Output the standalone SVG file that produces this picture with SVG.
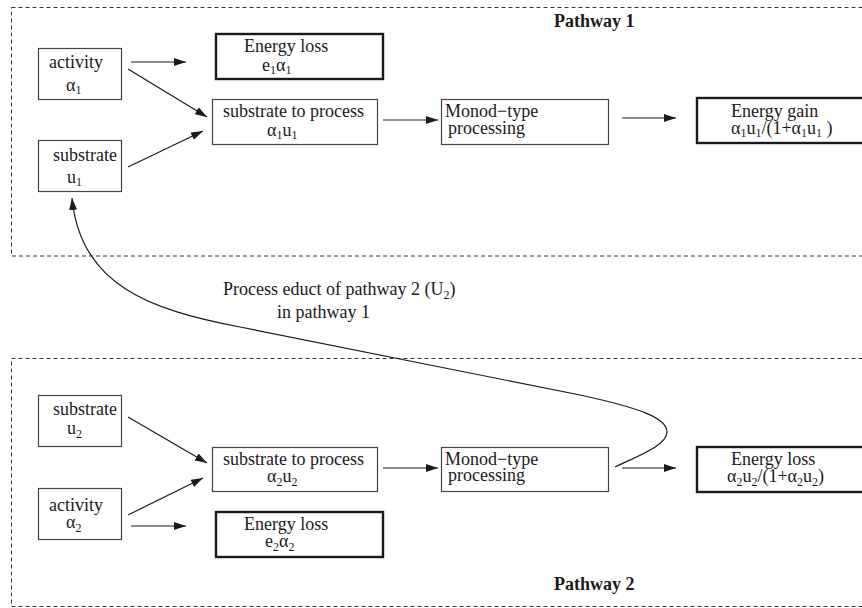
<svg xmlns="http://www.w3.org/2000/svg" width="862" height="608" viewBox="0 0 862 608">
<style>
text{font-family:"Liberation Serif","Times New Roman",serif;font-size:18px;fill:#1a1a1a}
.b{font-weight:bold}
.s{font-size:12px}
.box{fill:#fff;stroke:#444;stroke-width:1.2}
.tk{fill:#fff;stroke:#1a1a1a;stroke-width:2.4}
.dash{fill:none;stroke:#333;stroke-width:1;stroke-dasharray:4,3}
.c{fill:none;stroke:#1a1a1a;stroke-width:1.2}
</style>
<defs>
<marker id="ah" viewBox="0 0 12 8" refX="12" refY="4" markerWidth="12" markerHeight="8" markerUnits="userSpaceOnUse" orient="auto">
<path d="M0,0 L12,4 L0,8 z" fill="#1a1a1a"/>
</marker>
</defs>
<g id="pathway1-frame">
<rect class="dash" x="11.5" y="7.5" width="900" height="248.5"/>
<text class="b" x="554" y="27">Pathway 1</text>
</g>
<g id="pathway2-frame">
<rect class="dash" x="11.5" y="358.5" width="900" height="248"/>
<text class="b" x="554" y="590">Pathway 2</text>
</g>
<g id="activity1"><rect class="box" x="38.5" y="48.5" width="83" height="51"/>
<text x="49" y="68">activity</text>
<text x="66" y="91">α<tspan class="s" dy="3">1</tspan></text></g>
<g id="substrate1"><rect class="box" x="38.5" y="140.5" width="83" height="51"/>
<text x="53" y="161">substrate</text>
<text x="67" y="183">u<tspan class="s" dy="3">1</tspan></text></g>
<g id="loss1"><rect class="tk" x="216" y="34" width="167" height="45"/>
<text x="244" y="52">Energy loss</text>
<text x="262" y="71">e<tspan class="s" dy="3">1</tspan><tspan dy="-3">α</tspan><tspan class="s" dy="3">1</tspan></text></g>
<g id="process1"><rect class="box" x="212.5" y="99.5" width="165" height="45"/>
<text x="223" y="117">substrate to process</text>
<text x="267" y="136">α<tspan class="s" dy="3">1</tspan><tspan dy="-3">u</tspan><tspan class="s" dy="3">1</tspan></text></g>
<g id="monod1"><rect class="box" x="441.5" y="99.5" width="167" height="45"/>
<text x="445" y="117">Monod−type</text>
<text x="448" y="134">processing</text></g>
<g id="gain1"><rect class="tk" x="697" y="98" width="180" height="45"/>
<text x="731" y="117">Energy gain</text>
<text x="731" y="134">α<tspan class="s" dy="3">1</tspan><tspan dy="-3">u</tspan><tspan class="s" dy="3">1</tspan><tspan dy="-3">/(1+α</tspan><tspan class="s" dy="3">1</tspan><tspan dy="-3">u</tspan><tspan class="s" dy="3">1</tspan><tspan dy="-3"> )</tspan></text></g>
<g id="substrate2"><rect class="box" x="38.5" y="395.5" width="83" height="51"/>
<text x="53" y="415">substrate</text>
<text x="67" y="434">u<tspan class="s" dy="4">2</tspan></text></g>
<g id="activity2"><rect class="box" x="38.5" y="488.5" width="83" height="51"/>
<text x="49" y="511">activity</text>
<text x="66" y="528">α<tspan class="s" dy="4">2</tspan></text></g>
<g id="process2"><rect class="box" x="212.5" y="447.5" width="165" height="44"/>
<text x="223" y="465">substrate to process</text>
<text x="267" y="482">α<tspan class="s" dy="4">2</tspan><tspan dy="-4">u</tspan><tspan class="s" dy="4">2</tspan></text></g>
<g id="loss2"><rect class="tk" x="216" y="512" width="167" height="45"/>
<text x="244" y="530">Energy loss</text>
<text x="265" y="547">e<tspan class="s" dy="4">2</tspan><tspan dy="-4">α</tspan><tspan class="s" dy="4">2</tspan></text></g>
<g id="monod2"><rect class="box" x="441.5" y="447.5" width="167" height="44"/>
<text x="445" y="465">Monod−type</text>
<text x="448" y="481">processing</text></g>
<g id="lossout2"><rect class="tk" x="697" y="447" width="180" height="45"/>
<text x="731" y="465">Energy loss</text>
<text x="727" y="482">α<tspan class="s" dy="4">2</tspan><tspan dy="-4">u</tspan><tspan class="s" dy="4">2</tspan><tspan dy="-4">/(1+α</tspan><tspan class="s" dy="4">2</tspan><tspan dy="-4">u</tspan><tspan class="s" dy="4">2</tspan><tspan dy="-4">)</tspan></text></g>
<g id="educt-label">
<text x="223" y="295">Process educt of pathway 2 (U<tspan class="s" dy="4">2</tspan><tspan dy="-4">)</tspan></text>
<text x="277" y="318">in pathway 1</text>
</g>
<g id="connectors" class="c">
<line x1="131" y1="62" x2="186" y2="62" marker-end="url(#ah)"/>
<line x1="128" y1="69" x2="207" y2="117" marker-end="url(#ah)"/>
<line x1="128" y1="167" x2="203" y2="131" marker-end="url(#ah)"/>
<line x1="383" y1="120" x2="438" y2="120" marker-end="url(#ah)"/>
<line x1="622" y1="118" x2="676" y2="118" marker-end="url(#ah)"/>
<line x1="128" y1="417" x2="207" y2="463" marker-end="url(#ah)"/>
<line x1="128" y1="515" x2="203" y2="478" marker-end="url(#ah)"/>
<line x1="131" y1="526" x2="186" y2="526" marker-end="url(#ah)"/>
<line x1="383" y1="468" x2="438" y2="468" marker-end="url(#ah)"/>
<line x1="622" y1="468" x2="676" y2="468" marker-end="url(#ah)"/>
<path d="M615,467 C640,455 667,445 667,432 C667,418 640,408 580,395 L240,327 C150,310 80,285 72,198" marker-end="url(#ah)"/>
</g>
</svg>
